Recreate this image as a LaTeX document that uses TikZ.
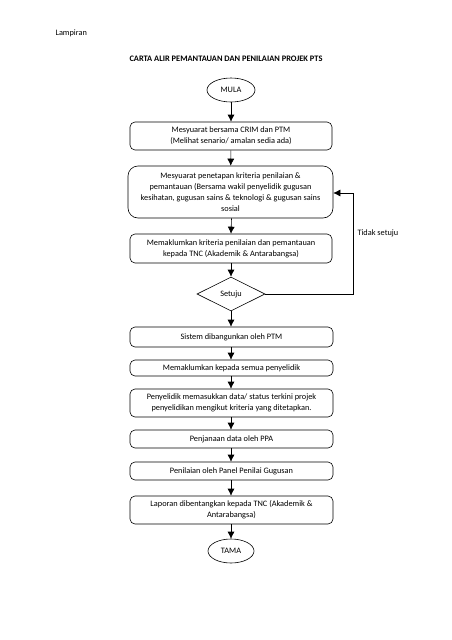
\documentclass[tikz,border=0pt]{standalone}
\usepackage{fontspec}
\setmainfont{Carlito}
\usetikzlibrary{shapes.geometric,arrows.meta}
\begin{document}
\begin{tikzpicture}[x=1pt,y=-1pt,
  box/.style={draw,rounded corners=5pt,line width=0.6pt,align=center,inner sep=0pt,font=\fontsize{8.3}{11}\selectfont},
  term/.style={draw,ellipse,line width=0.6pt,inner sep=0pt,font=\fontsize{8.3}{11}\selectfont},
  dec/.style={draw,diamond,line width=0.6pt,inner sep=0pt,font=\fontsize{8.3}{11}\selectfont},
  arr/.style={line width=0.6pt,-{Latex[length=7pt,width=7pt]}},
  every node/.style={text=black}]
\fill[white] (0,0) rectangle (452,640);
\node[anchor=west,font=\fontsize{8.3}{10}\selectfont] (lamp) at (52,33) {Lampiran};
\node[font=\bfseries\fontsize{8.4}{10}\selectfont] (title) at (226,59) {CARTA ALIR PEMANTAUAN DAN PENILAIAN PROJEK PTS};
\node[term,minimum width=48pt,minimum height=24pt] (mula) at (231,90) {MULA};
\node[box,minimum width=202pt,minimum height=28pt] (b1) at (231,136) {Mesyuarat bersama CRIM dan PTM\\(Melihat senario/ amalan sedia ada)};
\node[box,rounded corners=10pt,minimum width=205pt,minimum height=52pt] (b2) at (230.5,192) {Mesyuarat penetapan kriteria penilaian \&\\pemantauan (Bersama wakil penyelidik gugusan\\kesihatan, gugusan sains \& teknologi \& gugusan sains\\sosial};
\node[box,minimum width=202pt,minimum height=29pt] (b3) at (231,248.5) {Memaklumkan kriteria penilaian dan pemantauan\\kepada TNC (Akademik \& Antarabangsa)};
\node[dec,minimum width=68pt,minimum height=34pt] (d) at (231,294) {Setuju};
\node[box,minimum width=203pt,minimum height=20pt] (b4) at (231.5,337) {Sistem dibangunkan oleh PTM};
\node[box,minimum width=203pt,minimum height=16pt] (b5) at (231.5,368) {Memaklumkan kepada semua penyelidik};
\node[box,minimum width=203pt,minimum height=28pt] (b6) at (231.5,403) {Penyelidik memasukkan data/ status terkini projek\\penyelidikan mengikut kriteria yang ditetapkan.};
\node[box,minimum width=203pt,minimum height=18pt] (b7) at (231.5,439) {Penjanaan data oleh PPA};
\node[box,minimum width=203pt,minimum height=18pt] (b8) at (231.5,471) {Penilaian oleh Panel Penilai Gugusan};
\node[box,minimum width=203pt,minimum height=28pt] (b9) at (231.5,510) {Laporan dibentangkan kepada TNC (Akademik \&\\Antarabangsa)};
\node[term,minimum width=46pt,minimum height=24pt] (tama) at (231,551) {TAMA};
\coordinate (c1) at (353,294);
\coordinate (c2) at (353,193);
\node[anchor=west,font=\fontsize{8.3}{10}\selectfont] (tidak) at (354,233) {Tidak setuju};
\draw[arr] (mula) -- (b1);
\draw[arr] (b1) -- (b2);
\draw[arr] (b2.south -| b3.north) ++(0.5,0) -- (b3.north);
\draw[arr] (b3) -- (d);
\draw[arr] (d) -- (b4.north -| d);
\draw[arr] (b4.south -| d) -- (b5.north -| d);
\draw[arr] (b5.south -| d) -- (b6.north -| d);
\draw[arr] (b6.south -| d) -- (b7.north -| d);
\draw[arr] (b7.south -| d) -- (b8.north -| d);
\draw[arr] (b8.south -| d) -- (b9.north -| d);
\draw[arr] (b9.south -| d) -- (tama);
\draw[arr] (d.east) -- (c1) -- (c2) -- (b2.east |- c2);
\end{tikzpicture}
\end{document}
